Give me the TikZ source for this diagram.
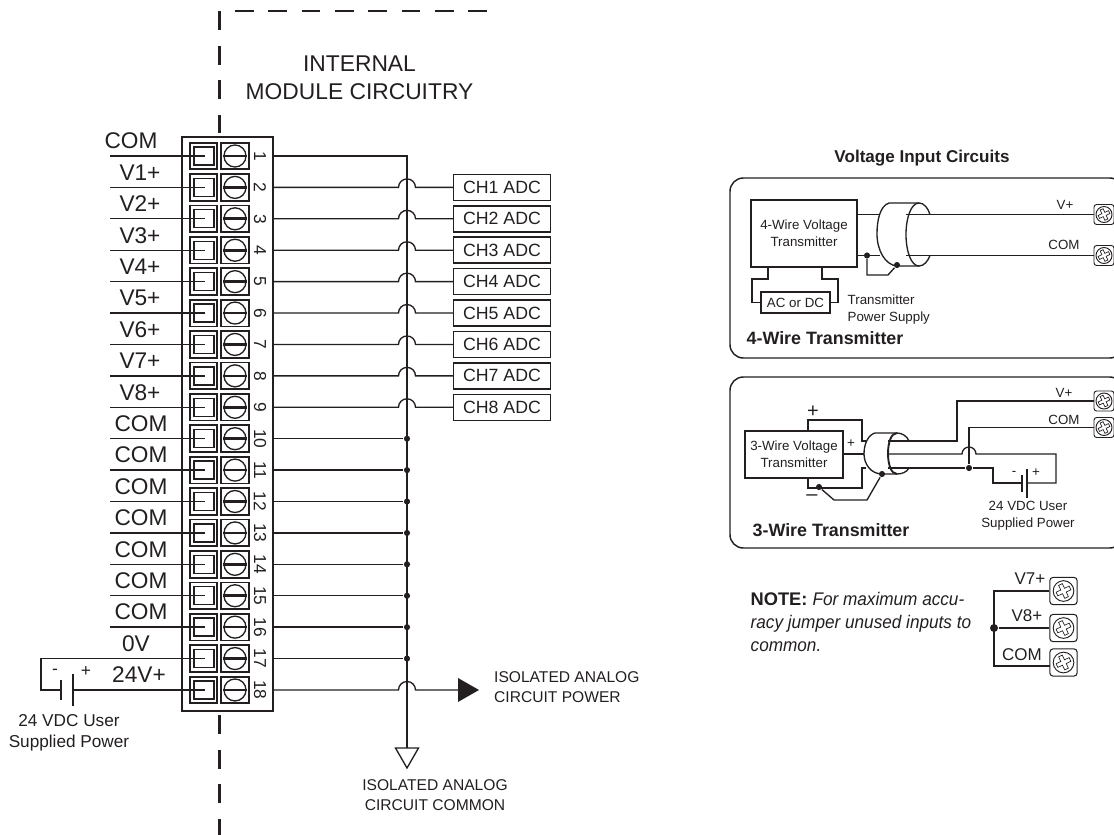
\documentclass[tikz,border=0pt]{standalone}
\usepackage{fontspec}
\usepackage{tikz}
\setmainfont{Liberation Sans}
\newfontfamily\notefont[FakeStretch=0.94]{Liberation Sans}
\definecolor{ink}{HTML}{231F20}

\tikzset{crosshead/.pic={
  \draw [ink,line width=0.5pt,rotate=25] (-1.7,1.7) -- (-1.7,6) -- (1.7,6) -- (1.7,1.7) -- (6,1.7) -- (6,-1.7) -- (1.7,-1.7) -- (1.7,-6) -- (-1.7,-6) -- (-1.7,-1.7) -- (-6,-1.7) -- (-6,1.7) -- cycle;
}}

\begin{document}
\begin{tikzpicture}[x=0.75pt,y=0.75pt,color=ink,line width=1pt]
\tikzstyle{every node}+=[inner sep=0pt]
\tikzstyle{bigtext}=[font=\fontsize{17}{17}\selectfont]
\tikzstyle{midtext}=[font=\fontsize{11.7}{15}\selectfont,align=center]
\tikzstyle{supplytext}=[font=\fontsize{12.9}{15.75}\selectfont,align=center]
\tikzstyle{smalltext}=[font=\fontsize{10}{12.75}\selectfont,align=center]
\tikzstyle{boldtext}=[font=\fontsize{13.4}{13.4}\selectfont\bfseries,anchor=west]
\tikzstyle{stripbox}=[draw,line width=2.1pt,minimum width=68.25pt,minimum height=430.5pt]
\tikzstyle{clampbox}=[draw,line width=1.3pt,minimum width=20.25pt,minimum height=20pt]
\tikzstyle{holebox}=[draw,line width=1pt,fill=white,minimum width=15pt,minimum height=13.5pt]
\tikzstyle{headbox}=[draw,line width=1.3pt,minimum width=21pt,minimum height=20pt]
\tikzstyle{screwhead}=[draw,circle,line width=1pt,fill=white,minimum size=16.5pt]
\tikzstyle{adcbox}=[draw,line width=1.1pt,minimum width=72.75pt,minimum height=19.5pt,font=\fontsize{13.3}{13.3}\selectfont]
\tikzstyle{jdot}=[fill,circle,minimum size=4.6pt]
\tikzstyle{panel}=[draw,line width=1.1pt,rounded corners=10pt,minimum width=294.75pt]
\tikzstyle{xmitbox}=[draw,line width=1.5pt,align=center,font=\fontsize{10}{12.75}\selectfont]
\tikzstyle{termbox}=[draw,line width=0.7pt,fill=white,rounded corners=2pt,minimum size=15pt]
\tikzstyle{termhead}=[draw,circle,line width=0.7pt,minimum size=12pt]
\tikzstyle{bigterm}=[draw,line width=0.8pt,fill=white,rounded corners=2.5pt,minimum size=20.5pt]
\tikzstyle{bighead}=[draw,circle,line width=0.7pt,minimum size=15.5pt]
\tikzstyle{modulebound}=[line width=1.6pt,dash pattern=on 14.25pt off 11.8pt]
\useasboundingbox (0,0) rectangle (1114,-835);

% module boundary
\draw [modulebound] (219.5,-11) -- (219.5,-133);
\draw [modulebound] (219.5,-715) -- (219.5,-835);
\draw [modulebound,dash pattern=on 13.9pt off 11.1pt] (235,-11) -- (487,-11);
\node [font=\fontsize{17.1}{21}\selectfont,align=center] (internal) at (359.5,-78) {INTERNAL\\MODULE CIRCUITRY};

% terminal strip
\node [stripbox] (strip) at (227.5,-424) {};
\foreach \n in {1,...,18} {
  \pgfmathsetmacro\rowy{-156-(\n-1)*31.41}
  \node [clampbox] (clamp\n) at (203.5,\rowy) {};
  \node [holebox] (hole\n) at (204,\rowy) {};
  \node [headbox] (head\n) at (235,\rowy) {};
  \node [screwhead] (screw\n) at (235,\rowy) {};
  \draw [line width=2pt] (screw\n.west) -- (screw\n.east);
  \node [font=\fontsize{13}{13}\selectfont,rotate=-90] (pin\n) at (260,\rowy) {\n};
  \coordinate (lead\n) at (110,\rowy);
  \coordinate (tap\n) at (205,\rowy);
  \coordinate (out\n) at (273,\rowy);
  \coordinate (jump\n) at (398.5,\rowy);
}
\foreach \n in {1,...,16,18} {
  \draw (lead\n) -- (tap\n);
}
\foreach \n/\name/\xc in {1/COM/131,2/V1+/140,3/V2+/140,4/V3+/140,5/V4+/140,6/V5+/140,7/V6+/140,8/V7+/140,9/V8+/140,10/COM/141,11/COM/141,12/COM/141,13/COM/141,14/COM/141,15/COM/141,16/COM/141,17/0V/136,18/24V+/139} {
  \node [bigtext] (lab\n) at (\xc,0 |- lead\n) [yshift=11.25pt] {\name};
}

% bus and inputs
\coordinate (bustop) at (407,-156);
\coordinate (gndtop) at (407,-748);
\draw (out1) -- (bustop) -- (gndtop);
\foreach \n [count=\c from 2] in {1,...,8} {
  \node [adcbox] (adc\n) at (502,0 |- out\c) {CH\n\ ADC};
  \draw (out\c) -- (jump\c) arc (180:0:8.5) -- (adc\n.west);
}
\foreach \n in {10,...,17} {
  \node [jdot] (jn\n) at (407,0 |- out\n) {};
  \draw (out\n) -- (jn\n);
}
\coordinate (pwr) at (458,0 |- out18);
\draw (out18) -- (jump18) arc (180:0:8.5) -- (pwr);
\fill (pwr) ++(0,12) -- ++(21,-12) -- ++(-21,-12) -- cycle;
\draw [fill=white] (gndtop) ++(-11.5,0) -- ++(23,0) -- ++(-11.5,-20) -- cycle;
\node [midtext,align=left,anchor=west] (pwrtext) at (493.5,-687) {ISOLATED ANALOG\\CIRCUIT POWER};
\node [midtext] (gndtext) at (435,-795) {ISOLATED ANALOG\\CIRCUIT COMMON};

% field supply
\coordinate (supfar) at (41,0 |- tap17);
\coordinate (batl) at (61,0 |- tap18);
\coordinate (batr) at (73,0 |- tap18);
\draw (tap17) -- (supfar) |- (batl);
\draw (batr) -- (tap18);
\draw [line width=1.2pt] (61,-680) -- (61,-700);
\draw [line width=1.2pt] (73,-674) -- (73,-706);
\node [font=\fontsize{13}{13}\selectfont] (batminus) at (55,-672) {-};
\node [font=\fontsize{13}{13}\selectfont] (batplus) at (86,-671) {+};
\node [supplytext] (suptext) at (69,-733) {24 VDC User\\Supplied Power};

% voltage input circuits
\node [font=\fontsize{12.8}{13}\selectfont\bfseries] (title) at (922,-158) {Voltage Input Circuits};
\node [panel,minimum height=135pt] (panelfour) at (926.5,-268) {};
\node [panel,minimum height=128.25pt] (panelthree) at (926.5,-462.5) {};

% 4-wire
\node [xmitbox,minimum width=79.5pt,minimum height=50.25pt] (xmitfour) at (804,-233.5) {4-Wire Voltage\\Transmitter};
\node [draw,smalltext,minimum width=51.75pt,minimum height=15.75pt] (acdc) at (795.5,-302.5) {AC or DC};
\node [termbox] (fourv) at (1104,-214.5) {};
\node [termhead] (fourvh) at (1104,-214.5) {};
\pic [scale=0.95] at (fourvh) {crosshead};
\node [termbox] (fourc) at (1104,-255.5) {};
\node [termhead] (fourch) at (1104,-255.5) {};
\pic [scale=0.95] at (fourch) {crosshead};
\coordinate (fourvin) at (906,-214.5);
\coordinate (fourcin) at (906,-255.5);
\draw (fourvin) -- (fourv.west);
\draw (fourcin) -- (fourc.west);
\draw (857,-214.5) -- (879,-214.5);
\node [jdot] (fourdrain) at (867,-255.5) {};
\node [jdot] (fourshield) at (897,-265) {};
\draw (857,-255.5) -- (880,-255.5);
\draw (fourdrain) -- (867,-275) -- (888,-275) -- (fourshield);
\draw (768,-267) -- (768,-279) -- (752,-279) |- (acdc.west);
\draw (822,-267) -- (822,-279) -- (838,-279) |- (acdc.east);
% shield
\draw (919,-203) -- (889,-203) .. controls (880,-206) and (877,-220) .. (877,-234) .. controls (877,-250) and (885,-265) .. (897,-266) -- (919,-266);
\draw (919,-203) .. controls (911,-203) and (906,-218) .. (906,-234.5) .. controls (906,-251) and (911,-266) .. (919,-266);
\draw (919,-203) .. controls (924,-203) and (928,-208) .. (930,-214.5);
\draw (919,-266) .. controls (924,-266) and (928,-261) .. (930,-255.5);
\node [smalltext] (fourvl) at (1065,-205) {V+};
\node [smalltext] (fourcl) at (1064,-245) {COM};
\node [smalltext,align=left,anchor=west] (xfmrtext) at (847,-310) {Transmitter\\Power Supply};
\node [boldtext] (fourname) at (746,-338) {4-Wire Transmitter};

% 3-wire
\node [xmitbox,minimum width=73.5pt,minimum height=35.25pt] (xmitthree) at (794,-454.5) {3-Wire Voltage\\Transmitter};
\node [termbox] (threev) at (1104,-401) {};
\node [termhead] (threevh) at (1104,-401) {};
\pic [scale=0.95] at (threevh) {crosshead};
\node [termbox] (threec) at (1104,-427.5) {};
\node [termhead] (threech) at (1104,-427.5) {};
\pic [scale=0.95] at (threech) {crosshead};
\coordinate (threesup) at (1056,-454);
\node [jdot] (threecom) at (969,-468) {};
\node [jdot] (threeneg) at (819,-487) {};
\node [jdot] (threeshield) at (882,-474) {};
\draw (threev.west) -- (957,-401) -- (957,-441) -- (888,-441);
\draw (threec.west) -- (969,-427.5) -- (threecom);
\draw (888,-468) -- (threecom) -- (993,-468) -- (993,-483) -- (1022,-483);
\draw (843,-454) -- (864,-454);
\draw (888,-454) -- (962,-454) arc (180:0:7) -- (threesup) -- (1056,-483) -- (1027,-483);
\draw [line width=1.2pt] (1022,-475) -- (1022,-492);
\draw [line width=1.2pt] (1027,-469) -- (1027,-498);
\draw (808,-431) -- (808,-420) -- (862,-420) -- (862,-441) -- (866,-441);
\draw (808,-478) -- (808,-488) -- (862,-488) -- (862,-468) -- (866,-468);
\draw (threeneg) -- (834,-500) -- (867,-500) -- (threeshield);
% shield
\draw (897,-433) -- (875,-433) .. controls (868,-435) and (864,-444) .. (864,-454) .. controls (864,-464) and (871,-474) .. (882,-474) -- (897,-474);
\draw [line width=1.4pt] (897,-433) .. controls (891,-433) and (888,-443) .. (888,-453.5) .. controls (888,-464) and (891,-474) .. (897,-474);
\draw (897,-433) .. controls (902,-433) and (907,-436) .. (909,-441);
\draw (897,-474) .. controls (902,-474) and (907,-472) .. (909,-468);
\node [font=\fontsize{15}{15}\selectfont] (threeplus) at (813,-412) {+};
\node [font=\fontsize{15}{15}\selectfont] (threeminus) at (812,-498) {\textendash};
\node [smalltext] (threeinp) at (851,-444) {+};
\node [smalltext] (threevl) at (1064,-393) {V+};
\node [smalltext] (threecl) at (1064,-420) {COM};
\node [smalltext] (threebm) at (1014,-473) {-};
\node [smalltext] (threebp) at (1036,-473) {+};
\node [smalltext] (threesuptext) at (1028,-516) {24 VDC User\\Supplied Power};
\node [boldtext] (threename) at (752,-530) {3-Wire Transmitter};

% jumper note
\node [font=\fontsize{13.7}{17.25}\selectfont,align=left,anchor=west] (note) at (750,-622) {\textbf{NOTE:} {\notefont\itshape For maximum accu-}\\{\notefont\itshape racy jumper unused inputs to}\\{\notefont\itshape common.}};
\node [bigterm] (termseven) at (1063.5,-591) {};
\node [bighead] (headseven) at (1063.5,-591) {};
\pic [scale=1.2] at (headseven) {crosshead};
\node [bigterm] (termeight) at (1063.5,-628) {};
\node [bighead] (headeight) at (1063.5,-628) {};
\pic [scale=1.2] at (headeight) {crosshead};
\node [bigterm] (termcom) at (1063.5,-662.5) {};
\node [bighead] (headcom) at (1063.5,-662.5) {};
\pic [scale=1.2] at (headcom) {crosshead};
\node [jdot,minimum size=6pt] (jumpdot) at (994,-628) {};
\coordinate (comin) at (1050,-666);
\draw (termseven.west) -| (jumpdot.center) |- (comin);
\draw (jumpdot) -- (termeight.west);
\node [font=\fontsize{12.75}{12.75}\selectfont] (lseven) at (1030,-579) {V7+};
\node [font=\fontsize{12.75}{12.75}\selectfont] (leight) at (1027,-616) {V8+};
\node [font=\fontsize{12.75}{12.75}\selectfont] (lcom) at (1022,-655) {COM};
\end{tikzpicture}
\end{document}
